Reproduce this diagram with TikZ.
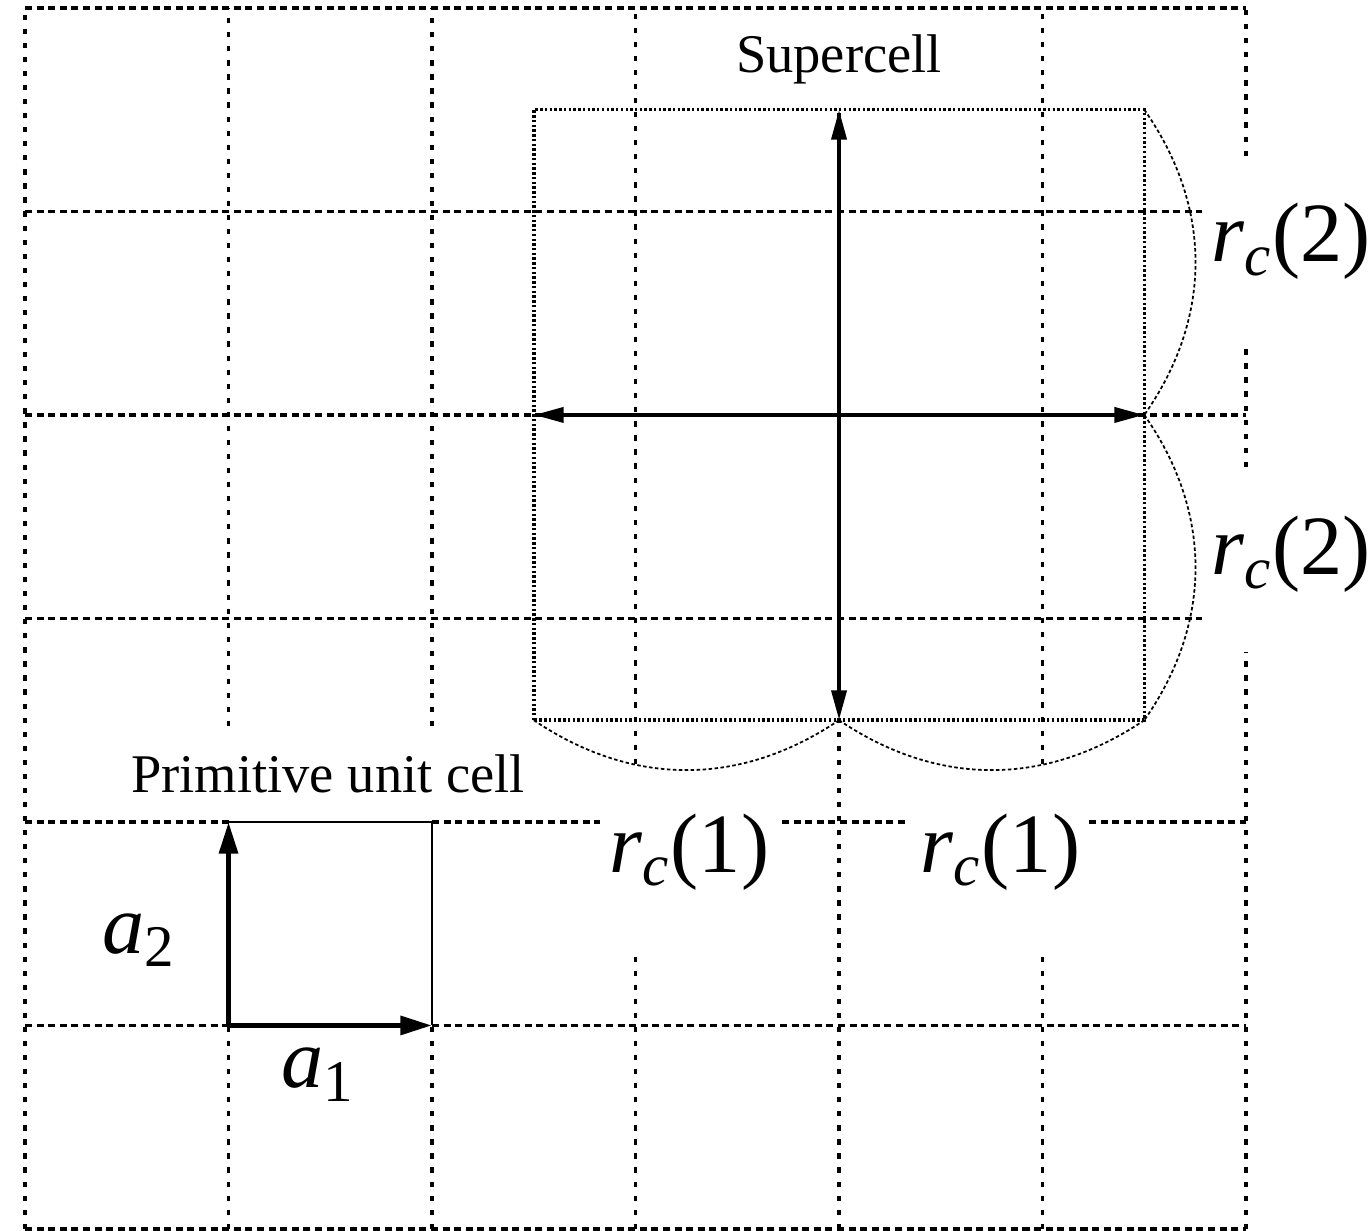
\documentclass[tikz,border=0pt]{standalone}
\usepackage{fontspec}
\setmainfont{Liberation Serif}
\usepackage{tikz}
\usetikzlibrary{arrows.meta}
\newcommand{\rcut}[1]{\textit{r}\textsubscript{\textit{c}}(#1)}
\tikzset{
  vgrid/.style={
    line width=0.9pt,
    dash pattern=on 1.5pt off 2.5pt
  },
  hgrid/.style={
    line width=0.9pt,
    dash pattern=on 2pt off 1.3pt
  },
  supercell/.style={
    line width=1pt,
    dash pattern=on 0.7pt off 0.65pt
  },
  cutoff/.style={
    line width=0.5pt,
    dash pattern=on 1pt off 0.7pt
  },
  lattvec/.style={
    line width=1.5pt,
    -{Triangle[length=9pt,width=5.2pt]}
  },
  scvec/.style={
    line width=1.25pt,
    -{Triangle[length=8.5pt,width=4.2pt]}
  },
  biglabel/.style={
    font=\fontsize{24}{28}\selectfont,
    anchor=base,
    inner sep=0pt
  },
  txtlabel/.style={
    font=\fontsize{15.5}{18}\selectfont,
    anchor=base,
    inner sep=0pt
  }
}
\begin{document}
\begin{tikzpicture}[x=2.035cm,y=2.035cm]
  \useasboundingbox (-0.123,-0.01) rectangle (6.619,6.039);
  % lattice lines, broken round the labels
  \foreach \x/\ya/\yb in {0/0/6, 1/0/1, 1/2.47/6, 2/0/1, 2/2.47/6,
      3/0/1.376, 3/2.285/6, 4/0/5.5, 5/0/1.376, 5/2.285/6,
      6/0/2.835, 6/3.744/4.359, 6/5.273/6}
    \draw[vgrid] (\x,\ya) -- (\x,\yb);
  \foreach \y/\xa/\xb in {0/0/6, 1/0/1, 1/2/6, 2/0/1, 2/2/2.826,
      2/3.72/4.334, 2/5.229/6, 3/0/5.784, 4/0/6, 5/0/5.784, 6/0/6}
    \draw[hgrid] (\xa,\y) -- (\xb,\y);
  % primitive cell
  \coordinate (o) at (1,1);
  \coordinate (a1) at (2,1);
  \coordinate (a2) at (1,2);
  \coordinate (a12) at (2,2);
  \draw[line width=0.7pt] (a2) -- (a12) -- (a1);
  \draw[lattvec] (o) -- (a1);
  \draw[lattvec] (o) -- (a2);
  % supercell
  \coordinate (sc) at (4,4);
  \coordinate (scN) at (4,5.5);
  \coordinate (scS) at (4,2.5);
  \coordinate (scE) at (5.5,4);
  \coordinate (scW) at (2.5,4);
  \coordinate (scNE) at (5.5,5.5);
  \coordinate (scSE) at (5.5,2.5);
  \coordinate (scSW) at (2.5,2.5);
  \draw[supercell] (scSW) rectangle (scNE);
  \draw[cutoff] (scNE) to[bend left=35] (scE);
  \draw[cutoff] (scE) to[bend left=35] (scSE);
  \draw[cutoff] (scSW) to[bend right=34] (scS);
  \draw[cutoff] (scS) to[bend right=34] (scSE);
  \draw[scvec] (sc) -- (scN);
  \draw[scvec] (sc) -- (scS);
  \draw[scvec] (sc) -- (scE);
  \draw[scvec] (sc) -- (scW);
  % labels
  \node[txtlabel] (sclab) at (4,5.681) {Supercell};
  \node[txtlabel] (pclab) at (1.489,2.147) {Primitive unit cell};
  \node[biglabel] (rc2a) at (6.22,4.752) {\rcut{2}};
  \node[biglabel] (rc2b) at (6.22,3.214) {\rcut{2}};
  \node[biglabel] (rc1a) at (3.265,1.754) {\rcut{1}};
  \node[biglabel] (rc1b) at (4.793,1.754) {\rcut{1}};
  \node[biglabel] (a2lab) at (0.56,1.356) {\textit{a}\textsubscript{2}};
  \node[biglabel] (a1lab) at (1.44,0.693) {\textit{a}\textsubscript{1}};
\end{tikzpicture}
\end{document}
